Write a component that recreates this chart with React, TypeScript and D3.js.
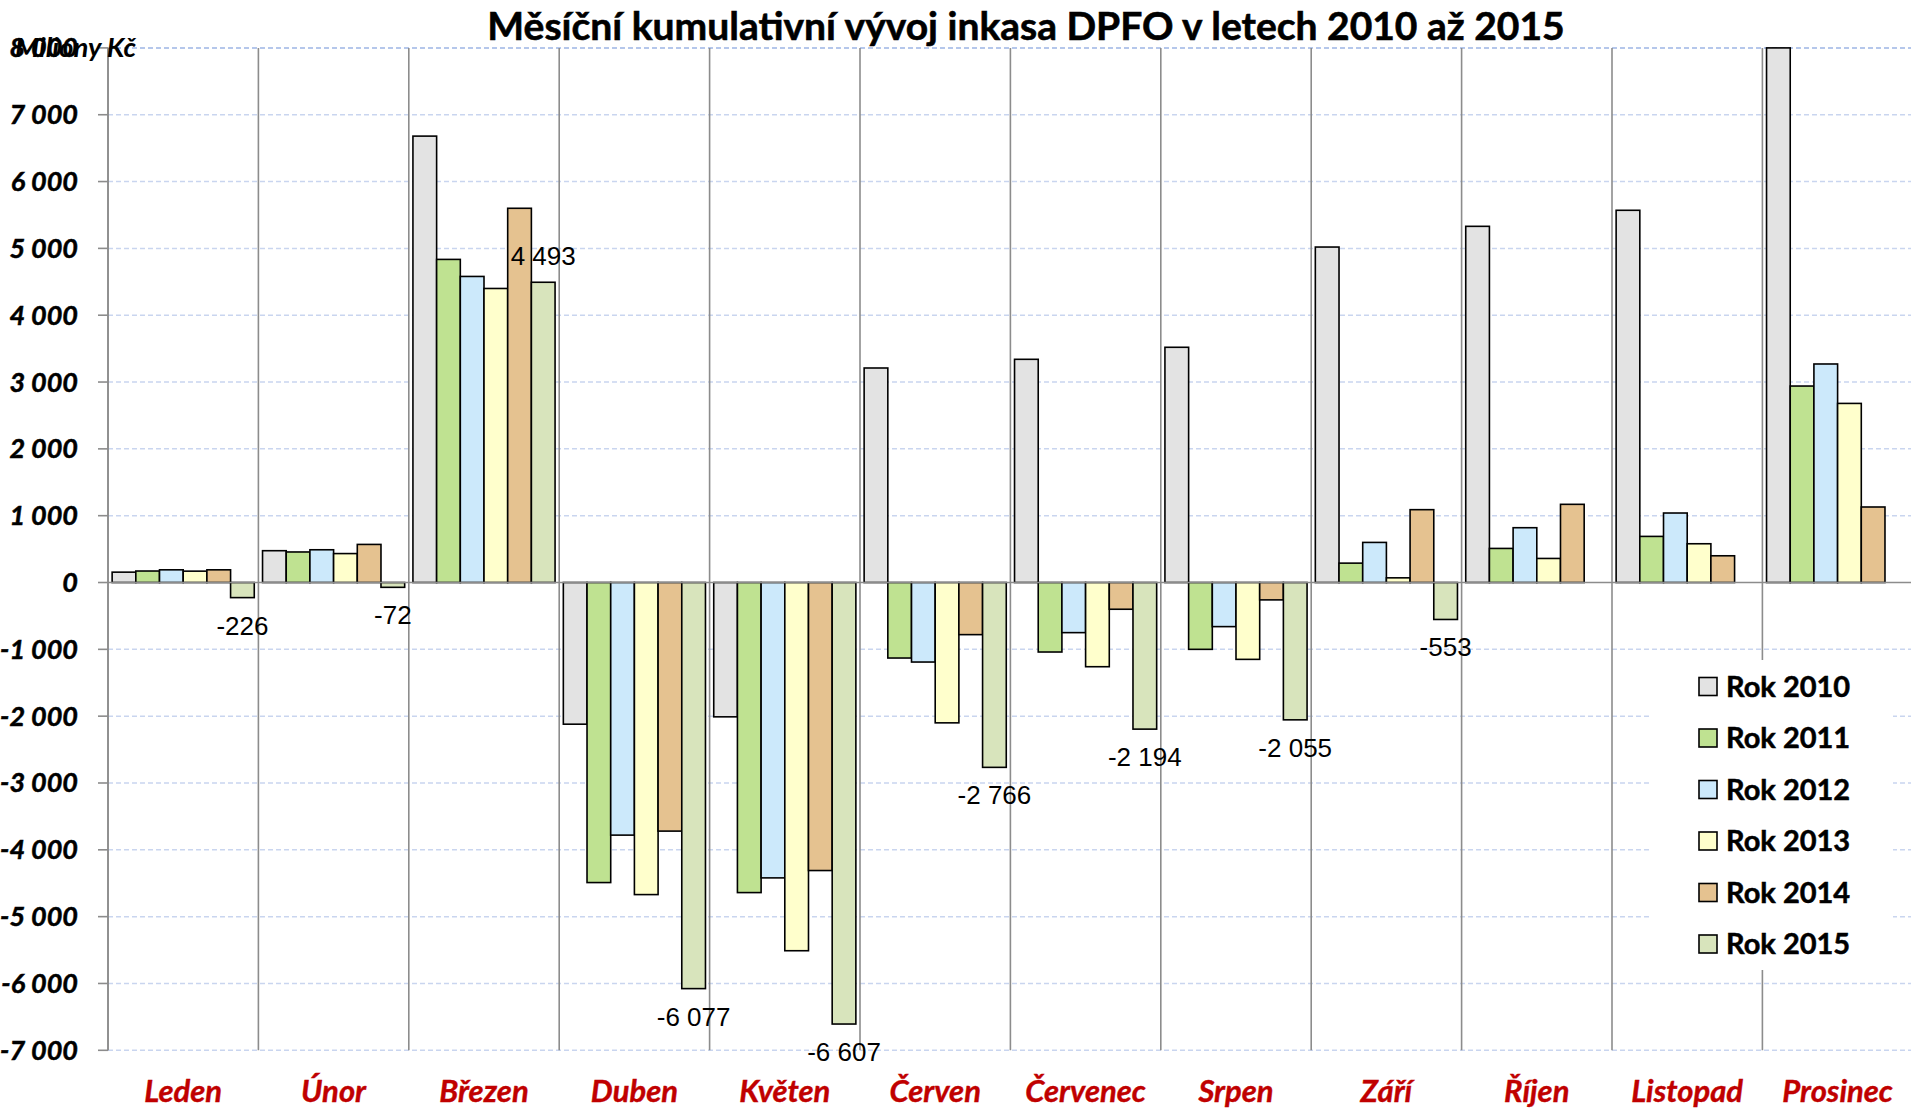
import React from 'react';
import * as d3 from 'd3';

const months = ['Leden', 'Únor', 'Březen', 'Duben', 'Květen', 'Červen', 'Červenec', 'Srpen', 'Září', 'Říjen', 'Listopad', 'Prosinec'];
const seriesNames = ['Rok 2010', 'Rok 2011', 'Rok 2012', 'Rok 2013', 'Rok 2014', 'Rok 2015'];
const rok2010 = [155, 476, 6680, -2120, -2010, 3210, 3340, 3520, 5020, 5330, 5570, 8000];
const rok2011 = [172, 457, 4835, -4490, -4640, -1130, -1040, -1000, 290, 510, 690, 2940];
const rok2012 = [190, 490, 4580, -3780, -4420, -1190, -750, -660, 600, 820, 1040, 3270];
const rok2013 = [170, 433, 4400, -4670, -5510, -2100, -1260, -1150, 70, 360, 580, 2680];
const rok2014 = [190, 570, 5600, -3720, -4310, -780, -400, -260, 1090, 1170, 400, 1130];
const rok2015: (number | null)[] = [-226, -72, 4493, -6077, -6607, -2766, -2194, -2055, -553, null, null, null];
const yTicks = [8000, 7000, 6000, 5000, 4000, 3000, 2000, 1000, 0, -1000, -2000, -3000, -4000, -5000, -6000, -7000];
const colors = ['#E3E3E3', '#BFE291', '#CCE9FB', '#FFFFCC', '#E5C290', '#D8E4BC'];
const titleText = 'Měsíční kumulativní vývoj inkasa DPFO v letech 2010 až 2015';
const unitText = 'Miliony Kč';

const allSeries = [rok2010, rok2011, rok2012, rok2013, rok2014, rok2015];

const W = 1911;
const H = 1108;
const left = 108;
const catW = 150.4;
const top = 47.9;
const bottom = 1050.3;

const fmt = d3.formatLocale({ decimal: ',', thousands: ' ', grouping: [3], currency: ['', ''], minus: '-' }).format(',');

const CAL = 'Lato, "Open Sans", sans-serif';
const ARIAL = '"Liberation Sans", Arial, sans-serif';

export default function App() {
  const x = d3.scaleBand<string>().domain(months).range([left, left + catW * 12]).paddingInner(0).paddingOuter(0);
  const xs = d3.scaleBand<string>().domain(seriesNames).range([0, x.bandwidth()]).paddingInner(0).paddingOuter(0.1745);
  const y = d3.scaleLinear().domain([-7000, 8000]).range([bottom, top]);
  const y0 = y(0);

  return (
    <svg width={W} height={H} style={{ position: 'absolute', left: 0, top: 0, background: '#fff' }}>
      <rect x={0} y={0} width={W} height={H} fill="#fff" />
      {/* horizontal gridlines */}
      {yTicks.filter((t) => t !== 0).map((t) => (
        <line key={'g' + t} x1={left} x2={W} y1={y(t)} y2={y(t)}
          stroke={t === 8000 ? '#9DB5E5' : '#C9D5EF'} strokeWidth={1.5} strokeDasharray="5 3" />
      ))}
      {/* vertical category separators */}
      {months.map((m) => (
        <line key={'s' + m} x1={x(m)!} x2={x(m)!} y1={top} y2={bottom} stroke="#8C8C8C" strokeWidth={1.6} />
      ))}
      {/* bars */}
      {allSeries.map((s, si) => (
        <g key={'ser' + si}>
          {s.map((v, mi) => v === null ? null : (
            <rect key={mi}
              x={x(months[mi])! + xs(seriesNames[si])!}
              y={Math.min(y(v), y0)}
              width={xs.bandwidth()}
              height={Math.abs(y(v) - y0)}
              fill={colors[si]} stroke="#000" strokeWidth={1.6} />
          ))}
        </g>
      ))}
      {/* axes */}
      <line x1={left} x2={W} y1={y0} y2={y0} stroke="#8C8C8C" strokeWidth={1.6} />
      <line x1={left} x2={left} y1={top} y2={bottom} stroke="#8C8C8C" strokeWidth={1.6} />
      {yTicks.map((t) => (
        <line key={'t' + t} x1={left - 10} x2={left} y1={y(t)} y2={y(t)} stroke="#8C8C8C" strokeWidth={1.6} />
      ))}
      {yTicks.map((t) => (
        <text key={'l' + t} x={78} y={y(t) + 9.5} textAnchor="end" fontFamily={CAL} fontWeight="bold" fontStyle="italic" fontSize={27} fill="#000" stroke="#000" strokeWidth={0.5}>{fmt(t)}</text>
      ))}
      <text x={15} y={57} fontFamily={CAL} fontStyle="italic" fontWeight="bold" fontSize={27.5} fill="#000">{unitText}</text>
      {/* month labels */}
      {months.map((m) => (
        <text key={'m' + m} x={x(m)! + x.bandwidth() / 2} y={1102} textAnchor="middle" fontFamily={CAL} fontWeight="bold" fontStyle="italic" fontSize={31} fill="#C00000" stroke="#C00000" strokeWidth={0.4}>{m}</text>
      ))}
      {/* data labels for 2015 */}
      {rok2015.map((v, mi) => v === null ? null : (
        <text key={'d' + mi}
          x={x(months[mi])! + xs(seriesNames[5])! + xs.bandwidth() / 2}
          y={v < 0 ? y(v) + 37 : y(v) - 17}
          textAnchor="middle" fontFamily={ARIAL} fontSize={26} fill="#000">{fmt(v)}</text>
      ))}
      {/* title */}
      <text x={1026} y={40} textAnchor="middle" fontFamily={CAL} fontWeight="bold" fontSize={39} fill="#000" stroke="#000" strokeWidth={0.6}>{titleText}</text>
      {/* legend */}
      <rect x={1650} y={660} width={243} height={310} fill="#fff" />
      {seriesNames.map((n, i) => (
        <g key={'lg' + n} transform={`translate(0, ${686.5 + i * 51.5})`}>
          <rect x={1699} y={-9} width={18} height={18} fill={colors[i]} stroke="#000" strokeWidth={1.6} />
          <text x={1726} y={10} fontFamily={CAL} fontWeight="bold" fontSize={29} fill="#000" stroke="#000" strokeWidth={0.5}>{n}</text>
        </g>
      ))}
    </svg>
  );
}
